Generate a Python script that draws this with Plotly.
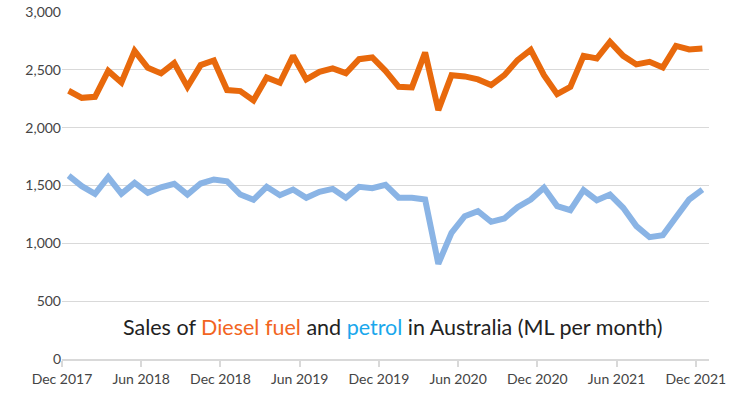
import plotly.graph_objects as go

months = ["Dec 2017", "Jan 2018", "Feb 2018", "Mar 2018", "Apr 2018", "May 2018", "Jun 2018",
          "Jul 2018", "Aug 2018", "Sep 2018", "Oct 2018", "Nov 2018", "Dec 2018",
          "Jan 2019", "Feb 2019", "Mar 2019", "Apr 2019", "May 2019", "Jun 2019",
          "Jul 2019", "Aug 2019", "Sep 2019", "Oct 2019", "Nov 2019", "Dec 2019",
          "Jan 2020", "Feb 2020", "Mar 2020", "Apr 2020", "May 2020", "Jun 2020",
          "Jul 2020", "Aug 2020", "Sep 2020", "Oct 2020", "Nov 2020", "Dec 2020",
          "Jan 2021", "Feb 2021", "Mar 2021", "Apr 2021", "May 2021", "Jun 2021",
          "Jul 2021", "Aug 2021", "Sep 2021", "Oct 2021", "Nov 2021", "Dec 2021"]

diesel = [2319, 2258, 2267, 2491, 2391, 2664, 2517, 2469, 2558, 2353, 2541, 2581, 2325,
          2316, 2235, 2434, 2388, 2621, 2417, 2483, 2512, 2471, 2592, 2607, 2491,
          2353, 2348, 2650, 2152, 2454, 2443, 2417, 2368, 2454, 2584, 2673, 2454,
          2290, 2353, 2621, 2598, 2742, 2621, 2547, 2569, 2521, 2707, 2676, 2685]

petrol = [1586, 1494, 1428, 1572, 1428, 1523, 1437, 1485, 1515, 1422, 1517, 1552, 1537,
          1422, 1376, 1489, 1416, 1465, 1394, 1446, 1471, 1394, 1489, 1477, 1505,
          1394, 1394, 1379, 823, 1091, 1235, 1278, 1186, 1215, 1313, 1379, 1480,
          1322, 1287, 1460, 1373, 1422, 1307, 1149, 1053, 1070, 1226, 1379, 1465]

tick_labels = ["Dec 2017", "Jun 2018", "Dec 2018", "Jun 2019", "Dec 2019",
               "Jun 2020", "Dec 2020", "Jun 2021", "Dec 2021"]

x_idx = list(range(len(months)))
tick_pos = [months.index(t) - 0.5 for t in tick_labels]

fig = go.Figure()
fig.add_trace(go.Scatter(x=x_idx, y=diesel, mode="lines", name="Diesel",
                         line=dict(color="#E8690C", width=6), hoverinfo="skip"))
fig.add_trace(go.Scatter(x=x_idx, y=petrol, mode="lines", name="Petrol",
                         line=dict(color="#8AB4E5", width=6), hoverinfo="skip"))

fig.update_layout(
    width=740, height=394,
    margin=dict(l=62, r=31, t=12, b=35, autoexpand=False),
    paper_bgcolor="white", plot_bgcolor="white",
    showlegend=False,
    font=dict(family="Lato, sans-serif", color="#444444", size=14),
    xaxis=dict(range=[-0.5, len(months) - 0.5], tickmode="array",
               tickvals=tick_pos, ticktext=tick_labels, automargin=False,
               showgrid=False, zeroline=False,
               showline=True, linecolor="#d9d9d9", linewidth=1.5,
               ticks="outside", ticklen=6, tickcolor="#d9d9d9", tickwidth=1.5,
               tickfont=dict(size=14, color="#444444")),
    yaxis=dict(range=[0, 3000], tickvals=[0, 500, 1000, 1500, 2000, 2500, 3000],
               tickformat=",d", showgrid=True, gridcolor="#d9d9d9", gridwidth=1,
               zeroline=False, showline=False, ticks="", ticklen=0, automargin=False,
               tickfont=dict(size=14, color="#444444")),
)

fig.add_annotation(
    x=0.512, y=0.092, xref="paper", yref="paper", showarrow=False,
    xanchor="center", yanchor="middle",
    text=("Sales of <span style='color:#F26522'>Diesel fuel</span> and "
          "<span style='color:#1AA7EC'>petrol</span> in Australia (ML per month)"),
    font=dict(family="Lato, sans-serif", size=21.5, color="#222222"),
)

fig.write_html("out.html", config={"displayModeBar": False},
               post_script="document.body.style.margin='0';")
